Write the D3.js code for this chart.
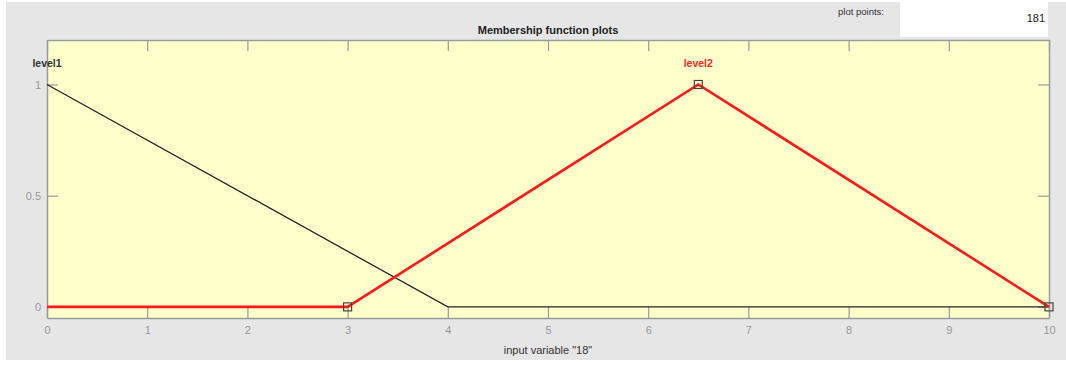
<!DOCTYPE html>
<html>
<head>
<meta charset="utf-8">
<script src="https://cdn.jsdelivr.net/npm/d3@7"></script>
<style>
  html, body { margin: 0; padding: 0; background: #ffffff; }
  svg { display: block; font-family: "Liberation Sans", Arial, sans-serif; }
</style>
</head>
<body>
<svg id="chart" width="1066" height="365"></svg>
<script>
// Membership functions of input variable "18"
const xTicks = [0, 1, 2, 3, 4, 5, 6, 7, 8, 9, 10];
const yTicks = [0, 0.5, 1];
const level1X = [0, 4, 10];
const level1Y = [1, 0, 0];
const level2X = [0, 3, 6.5, 10];
const level2Y = [0, 0, 1, 0];
const level2Params = [3, 6.5, 10];   // triangle vertices (marker positions)
const level2ParamY = [0, 1, 0];
const plotPoints = "181";

const svg = d3.select("#chart");

// panel background
svg.append("rect").attr("x", 6).attr("y", 2).attr("width", 1060).attr("height", 358).attr("fill", "#e6e6e6");

// plot points box
svg.append("rect").attr("x", 900).attr("y", 0).attr("width", 148).attr("height", 37).attr("fill", "#ffffff");
svg.append("text").attr("x", 884).attr("y", 15).attr("text-anchor", "end")
  .attr("font-size", 9.5).attr("fill", "#333").text("plot points:");
svg.append("text").attr("x", 1045).attr("y", 22).attr("text-anchor", "end")
  .attr("font-size", 11).attr("fill", "#222").text(plotPoints);

const plotLeft = 47, plotRight = 1049, plotTop = 40, plotBottom = 318;
const x = d3.scaleLinear().domain([0, 10]).range([plotLeft, plotRight]);
const y = d3.scaleLinear().domain([-0.05, 1.2]).range([plotBottom, plotTop]);

svg.append("rect").attr("x", plotLeft).attr("y", plotTop)
  .attr("width", plotRight - plotLeft).attr("height", plotBottom - plotTop)
  .attr("fill", "#ffffcc");

// title
svg.append("text").attr("x", (plotLeft + plotRight) / 2).attr("y", 34).attr("text-anchor", "middle")
  .attr("font-size", 11).attr("font-weight", "bold").attr("fill", "#222").text("Membership function plots");

// axes with inward ticks
const tickColor = "#9a9a9a";
const gBottom = svg.append("g").attr("transform", `translate(0,${plotBottom})`)
  .call(d3.axisBottom(x).tickValues(xTicks).tickFormat(d3.format("d")).tickSizeInner(-11).tickSizeOuter(0).tickPadding(8));
const gTop = svg.append("g").attr("transform", `translate(0,${plotTop})`)
  .call(d3.axisTop(x).tickValues(xTicks).tickFormat("").tickSizeInner(-11).tickSizeOuter(0));
const gLeft = svg.append("g").attr("transform", `translate(${plotLeft},0)`)
  .call(d3.axisLeft(y).tickValues(yTicks).tickFormat(d3.format("")).tickSizeInner(-11).tickSizeOuter(0).tickPadding(6));
const gRight = svg.append("g").attr("transform", `translate(${plotRight},0)`)
  .call(d3.axisRight(y).tickValues(yTicks).tickFormat("").tickSizeInner(-11).tickSizeOuter(0));
[gBottom, gTop, gLeft, gRight].forEach(g => {
  g.attr("font-size", 11).attr("font-family", "\"Liberation Sans\", Arial, sans-serif");
  g.select(".domain").attr("stroke", tickColor).attr("stroke-width", 1.5);
  g.selectAll(".tick line").attr("stroke", tickColor).attr("stroke-width", 1.2);
  g.selectAll(".tick text").attr("fill", "#999");
});

// x label
svg.append("text").attr("x", (plotLeft + plotRight) / 2).attr("y", 354).attr("text-anchor", "middle")
  .attr("font-size", 11).attr("fill", "#333").text('input variable "18"');

const line = d3.line().x(d => x(d[0])).y(d => y(d[1]));

// level1 (unselected) - thin dark line
svg.append("path").datum(level1X.map((v, i) => [v, level1Y[i]]))
  .attr("d", line).attr("fill", "none").attr("stroke", "#222").attr("stroke-width", 1.3);

// level2 (selected) - thick red line
svg.append("path").datum(level2X.map((v, i) => [v, level2Y[i]]))
  .attr("d", line).attr("fill", "none").attr("stroke", "#ff1a1a").attr("stroke-width", 2.6)
  .attr("stroke-linejoin", "miter");

// vertex markers of the selected function
svg.selectAll("rect.marker").data(level2Params.map((v, i) => [v, level2ParamY[i]]))
  .enter().append("rect").attr("class", "marker")
  .attr("x", d => x(d[0]) - 4).attr("y", d => y(d[1]) - 4)
  .attr("width", 8).attr("height", 8)
  .attr("fill", "none").attr("stroke", "#444").attr("stroke-width", 1.2);

// function names
svg.append("text").attr("x", x(0)).attr("y", 67).attr("text-anchor", "middle")
  .attr("font-size", 10.5).attr("font-weight", "bold").attr("fill", "#333").text("level1");
svg.append("text").attr("x", x(6.5)).attr("y", 67).attr("text-anchor", "middle")
  .attr("font-size", 10.5).attr("font-weight", "bold").attr("fill", "#ff2a2a").text("level2");
</script>
</body>
</html>
